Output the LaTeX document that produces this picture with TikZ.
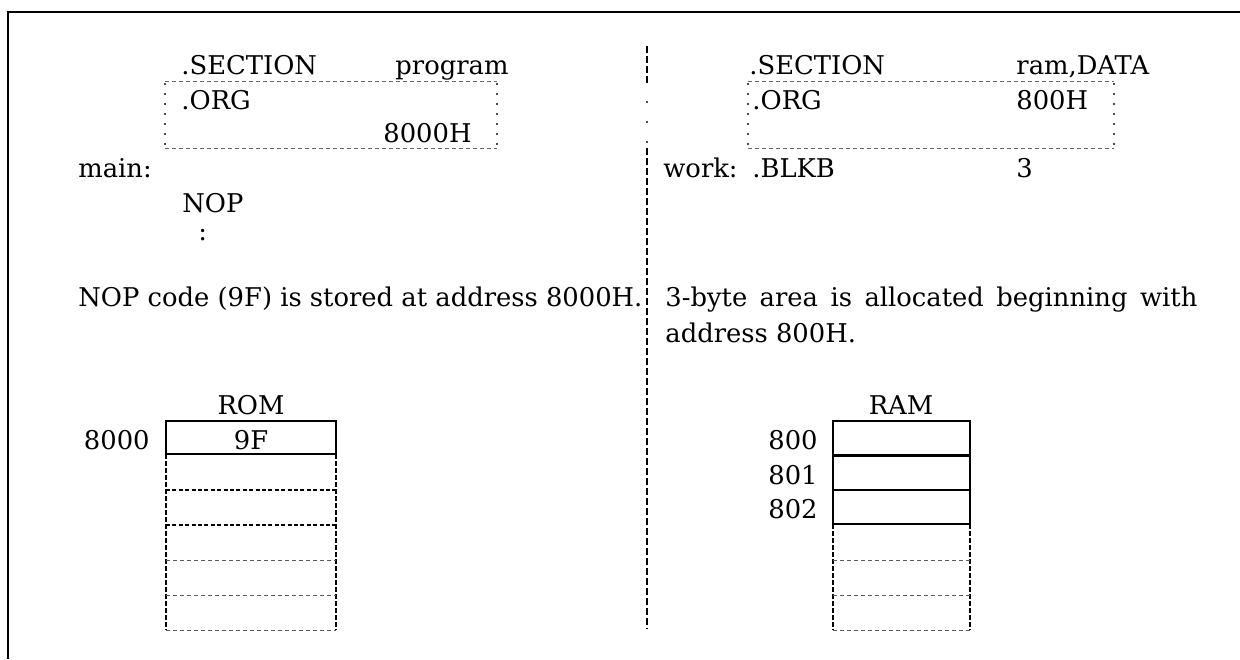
\documentclass[tikz,border=0pt]{standalone}
\usepackage{fontspec}
\setmainfont{DejaVu Serif}
\begin{document}
\begin{tikzpicture}[x=0.5pt,y=-0.5pt,
    txt/.style={anchor=base west,inner sep=0pt,font=\fontsize{12.9}{18}\selectfont},
    ctr/.style={txt,anchor=base},
    addr/.style={txt,anchor=base east},
    frame/.style={line width=1.3pt},
    cellline/.style={line width=0.9pt},
    sidedash/.style={line width=0.9pt,dash pattern=on 2.5pt off 1pt},
    thickdash/.style={line width=0.9pt,dash pattern=on 2pt off 1.2pt},
    thindash/.style={line width=0.5pt,gray!70!black,dash pattern=on 2pt off 1.5pt},
    boxdash/.style={line width=0.5pt,gray!80!black,dash pattern=on 2pt off 1.5pt},
    boxdot/.style={line width=0.7pt,gray!60!black,dash pattern=on 0.8pt off 4.2pt},
    divider/.style={line width=1.2pt,dash pattern=on 3.5pt off 1.5pt},
    dividerdot/.style={line width=1pt,gray!60!black,dash pattern=on 1pt off 9pt}]
    \useasboundingbox (0,0) rectangle (1240,659);
    \draw[frame] (8,659) -- (8,12) -- (1240,12);
    \draw[divider] (647,46) -- (647,86);
    \draw[dividerdot] (647,101) -- (647,148);
    \draw[divider] (647,148) -- (647,629);
    \draw[boxdash] (165,81) -- (497,81);
    \draw[boxdash] (165,148) -- (497,148);
    \draw[boxdot] (165,83) -- (165,148);
    \draw[boxdot] (497,83) -- (497,148);
    \draw[boxdash] (748,81) -- (1114,81);
    \draw[boxdash] (748,148) -- (1114,148);
    \draw[boxdot] (748,83) -- (748,148);
    \draw[boxdot] (1114,83) -- (1114,148);
    \node[txt] (secl) at (181,74) {.SECTION};
    \node[txt] (prog) at (395,74) {program};
    \node[txt] (orgl) at (181,109) {.ORG};
    \node[txt] (adrl) at (383,142) {8000H};
    \node[txt] (main) at (78,177) {main:};
    \node[txt] (nop) at (182,212) {NOP};
    \node[txt] (cont) at (198,240) {:};
    \node[txt] (notel) at (78,306) {NOP code (9F) is stored at address 8000H.};
    \node[txt] (secr) at (749,74) {.SECTION};
    \node[txt] (ramd) at (1016,74) {ram,DATA};
    \node[txt] (orgr) at (752,109) {.ORG};
    \node[txt] (adrr) at (1016,109) {800H};
    \node[txt] (work) at (663,177) {work:};
    \node[txt] (blkb) at (752,177) {.BLKB};
    \node[txt] (three) at (1016,177) {3};
    \node[txt] (noter) at (665,306) {\makebox[266pt][s]{3-byte area is allocated beginning with}};
    \node[txt] (noter2) at (665,342) {address 800H.};
    \node[ctr] (rom) at (251,414) {ROM};
    \draw[cellline] (166,421) rectangle (336,454);
    \node[ctr] (nf) at (251,449) {9F};
    \node[addr] (a8000) at (150,449) {8000};
    \draw[sidedash] (166,454) -- (166,630);
    \draw[sidedash] (336,454) -- (336,630);
    \foreach \y in {490,525}
        \draw[thickdash] (166,\y) -- (336,\y);
    \foreach \y in {560,595,630}
        \draw[thindash] (166,\y) -- (336,\y);
    \node[ctr] (ram) at (901,414) {RAM};
    \foreach \y/\a in {421/800,456/801,490/802} {
        \draw[cellline] (833,\y) rectangle (970,\y+34);
        \node[addr] (r\a) at (818,\y+28) {\a};
    }
    \draw[sidedash] (833,524) -- (833,630);
    \draw[sidedash] (970,524) -- (970,630);
    \foreach \y in {560,595,630}
        \draw[thindash] (833,\y) -- (970,\y);
\end{tikzpicture}
\end{document}
